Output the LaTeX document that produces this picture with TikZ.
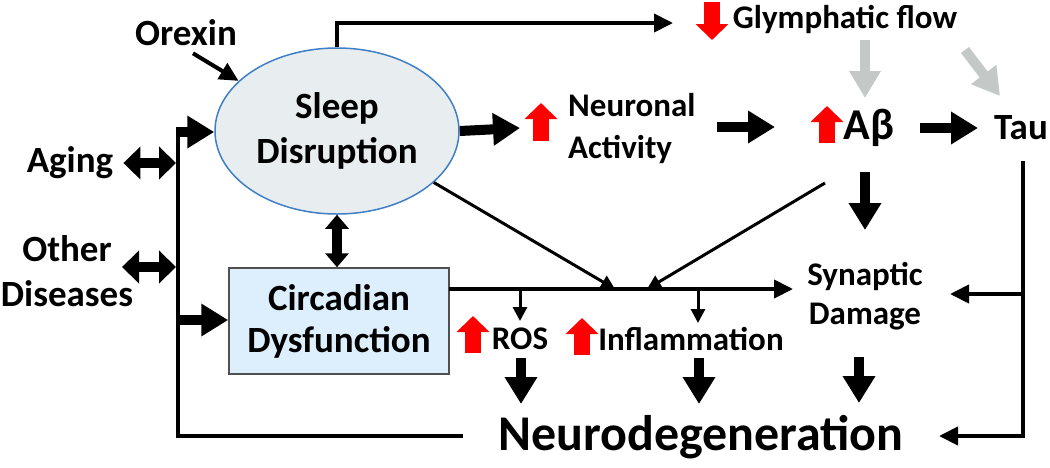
\documentclass[tikz,border=0pt]{standalone}
\usepackage{fontspec}
\setmainfont{Carlito}
\usetikzlibrary{arrows.meta,shapes.geometric,calc}
\definecolor{ellfill}{HTML}{E8EDEF}
\definecolor{ellline}{HTML}{3F7FC8}
\definecolor{boxfill}{HTML}{DDEEFC}
\definecolor{boxline}{HTML}{505050}
\definecolor{arrgray}{HTML}{C4C9C8}
\definecolor{myred}{HTML}{FF0000}
\begin{document}
\begin{tikzpicture}[x=1pt,y=-1pt,
  txt/.style={font=\bfseries\fontsize{33}{42}\selectfont, align=center, inner sep=2pt},
  bigtxt/.style={font=\bfseries\fontsize{37}{45}\selectfont, align=center, inner sep=2pt},
  ln/.style={line width=4pt},
  thinarr/.style={line width=4pt, -{Triangle[width=18pt,length=19pt]}},
  smallarr/.style={line width=3pt, -{Triangle[width=14pt,length=14pt]}},
  fatarr/.style={line width=10pt, -{Triangle[width=31pt,length=27pt]}},
  dblarr/.style={line width=10pt, {Triangle[width=32pt,length=17pt]}-{Triangle[width=32pt,length=17pt]}},
  vdblarr/.style={line width=10pt, {Triangle[width=23pt,length=14pt]}-{Triangle[width=23pt,length=14pt]}},
  grayarr/.style={line width=10pt, draw=arrgray, -{Triangle[width=30pt,length=27pt]}},
  redarr/.style={line width=16pt, draw=myred, -{Triangle[width=32pt,length=16pt]}}
]
\useasboundingbox (0,0) rectangle (1050,467);

% nodes
\node[bigtxt] (orexin) at (186,33) {Orexin};
\node[ellipse, draw=ellline, line width=1.5pt, fill=ellfill, minimum width=244pt, minimum height=166pt, inner sep=0pt, bigtxt] (sleep) at (337,131) {Sleep\\Disruption};
\node[bigtxt] (aging) at (70,163) {Aging};
\node[bigtxt] (other) at (67,271) {Other\\Diseases};
\node[rectangle, draw=boxline, line width=1.5pt, fill=boxfill, minimum width=220pt, minimum height=106pt, bigtxt, font=\bfseries\fontsize{37}{42}\selectfont] (circ) at (339,321) {Circadian\\Dysfunction};
\node[txt, align=left, anchor=west] (neur) at (566,129) {Neuronal\\Activity};
\node[font=\bfseries\fontsize{44}{48}\selectfont, inner sep=2pt] (ab) at (869,128) {Aβ};
\node[bigtxt] (tau) at (1021,128) {Tau};
\node[txt] (glymph) at (845,19) {Glymphatic flow};
\node[txt, font=\bfseries\fontsize{33}{39}\selectfont] (syn) at (865,296) {Synaptic\\Damage};
\node[txt] (ros) at (520,339) {ROS};
\node[txt] (infl) at (691,339) {Inflammation};
\node[font=\bfseries\fontsize{50}{54}\selectfont, inner sep=2pt] (nd) at (701,437) {Neurodegeneration};

% coordinates
\coordinate (bt) at (178,132);
\coordinate (bb) at (178,436);
\coordinate (bend) at (463,436);
\coordinate (gtip) at (673,23);
\coordinate (m1) at (615,289);
\coordinate (m2) at (647,289);
\coordinate (hstart) at (449,289);
\coordinate (hend) at (793,289);
\coordinate (ttop) at (1023,161);
\coordinate (tmid) at (1023,294);
\coordinate (synarr) at (950,294);
\coordinate (ndarr) at (939,436);

% red indicator arrows
\draw[redarr] (712,2) -- (712,40);
\draw[redarr] (541,141) -- (541,103);
\draw[redarr] (827,143) -- (827,106);
\draw[redarr] (473,353) -- (473,316);
\draw[redarr] (582,355) -- (582,318);

% connectors
\draw[thinarr] ($(orexin.south)+(7,5)$) -- (sleep.153);
\draw[thinarr] (sleep.north) |- (gtip);
\draw[ln] (bt) -- (bb) -- (bend);
\draw[fatarr] ([xshift=-2pt]bt) -- (sleep.west |- bt);
\draw[dblarr] ($(aging.east)+(8,0)$) -- (176,163);
\draw[dblarr] (122,267) -- (176,267);
\draw[fatarr] (178,320) -- (circ.west |- 0,320);
\draw[vdblarr] (sleep.south) -- (sleep.south |- circ.north);
\draw[fatarr] (sleep.east) -- (520,128);
\draw[fatarr] (717,127) -- (775,127);
\draw[fatarr] (920,128) -- (978,128);
\draw[fatarr] (865,172) -- (865,230);
\draw[grayarr] (865,40) -- (865,98);
\draw[grayarr] (965,50) -- (1000,96);
\draw[smallarr] (sleep.-28) -- (m1);
\draw[smallarr] (825,183) -- (m2);
\draw[thinarr] (hstart) -- (hend);
\draw[smallarr] (520,289) -- (520,321);
\draw[smallarr] (698,289) -- (698,323);
\draw[thinarr] (ttop) |- (ndarr);
\draw[thinarr] (tmid) -- (synarr);
\draw[fatarr] (521,358) -- (521,404);
\draw[fatarr] (699,358) -- (699,404);
\draw[fatarr] (859,357) -- (859,403);
\end{tikzpicture}
\end{document}
